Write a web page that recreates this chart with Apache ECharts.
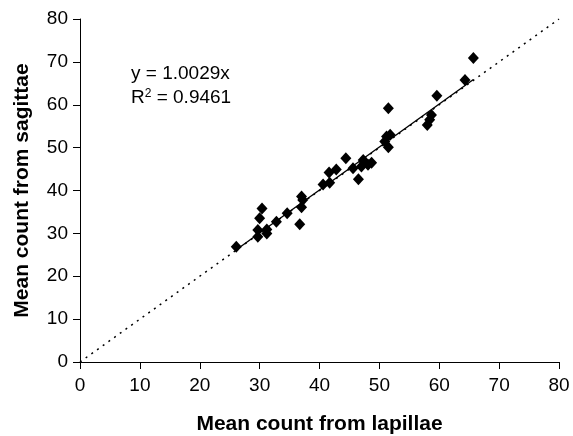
<!DOCTYPE html>
<html>
<head>
<meta charset="utf-8">
<script src="https://cdn.jsdelivr.net/npm/echarts@6/dist/echarts.min.js"></script>
<style>
	html, body {margin: 0; padding: 0; background: #fff;}
	#chart {width: 573px; height: 436px;}
</style>
</head>
<body>
<div id="chart"></div>
<script>
// mean counts
var lapillae = [26.1, 29.7, 29.7, 30.0, 30.4, 31.2, 31.2, 32.8, 34.6, 36.7, 37.0, 37.0, 37.2,
	40.6, 41.7, 41.6, 42.8, 44.4, 45.6, 46.5, 47.0, 47.3, 48.1, 48.7,
	50.9, 51.2, 51.8, 51.5, 51.5, 58.0, 58.4, 58.7, 59.6, 64.3, 65.7];
var sagittae = [26.9, 29.2, 30.8, 33.5, 35.8, 30.0, 30.9, 32.7, 34.7, 32.1, 36.1, 38.6, 37.8,
	41.4, 41.8, 44.2, 44.9, 47.5, 45.2, 42.6, 45.6, 47.1, 46.0, 46.5,
	51.4, 52.6, 53.0, 50.1, 59.2, 55.3, 56.5, 57.6, 62.1, 65.8, 70.9];
var slope = 1.0029;
var oneToOne = [[0, 0], [80, 80]];
var ticks = [0, 10, 20, 30, 40, 50, 60, 70, 80];

var points = [];
for (var i = 0; i < lapillae.length; i++) {
	points.push([lapillae[i], sagittae[i]]);
}
var xmin = Math.min.apply(null, lapillae);
var xmax = Math.max.apply(null, lapillae);
var trend = [[xmin, xmin * slope], [xmax, xmax * slope]];

var chart = echarts.init(document.getElementById('chart'));
var axisCommon = {
	type: 'value',
	min: ticks[0],
	max: ticks[ticks.length - 1],
	interval: 10,
	nameLocation: 'middle',
	nameTextStyle: {fontFamily: 'Liberation Sans', fontWeight: 'bold', fontSize: 21, color: '#000'},
	axisLine: {show: true, onZero: false, lineStyle: {color: '#000', width: 1}},
	axisTick: {show: true, length: 7, lineStyle: {color: '#000'}},
	axisLabel: {fontFamily: 'Liberation Sans', fontSize: 19, color: '#000'},
	splitLine: {show: false}
};
var option = {
	animation: false,
	grid: {left: 80, right: 14, top: 19, bottom: 74, containLabel: false, outerBoundsMode: 'none'},
	xAxis: echarts.util.merge({name: 'Mean count from lapillae', nameGap: 52, axisLabel: {margin: 14}}, axisCommon),
	yAxis: echarts.util.merge({name: 'Mean count from sagittae', nameGap: 47, axisLabel: {margin: 12}}, axisCommon),
	graphic: [{
		type: 'text',
		left: 131,
		top: 62,
		style: {
			text: 'y = 1.0029x\n{r|R}{s|2}{r| = 0.9461}',
			fontFamily: 'Liberation Sans',
			fontSize: 19,
			lineHeight: 24,
			fill: '#000',
			rich: {
				r: {fontFamily: 'Liberation Sans', fontSize: 19, fill: '#000', lineHeight: 24},
				s: {fontFamily: 'Liberation Sans', fontSize: 12, fill: '#000', verticalAlign: 'top', lineHeight: 14, padding: [2, 0, 0, 0]}
			}
		}
	}],
	series: [{
		type: 'line',
		data: oneToOne,
		showSymbol: false,
		lineStyle: {color: '#000', width: 1.5, type: [2, 5]},
		z: 1
	}, {
		type: 'line',
		data: trend,
		showSymbol: false,
		lineStyle: {color: '#000', width: 1.4},
		z: 2
	}, {
		type: 'scatter',
		data: points,
		symbol: 'diamond',
		symbolSize: [11, 12],
		itemStyle: {color: '#000', opacity: 1},
		z: 3
	}]
};
chart.setOption(option);
</script>
</body>
</html>
